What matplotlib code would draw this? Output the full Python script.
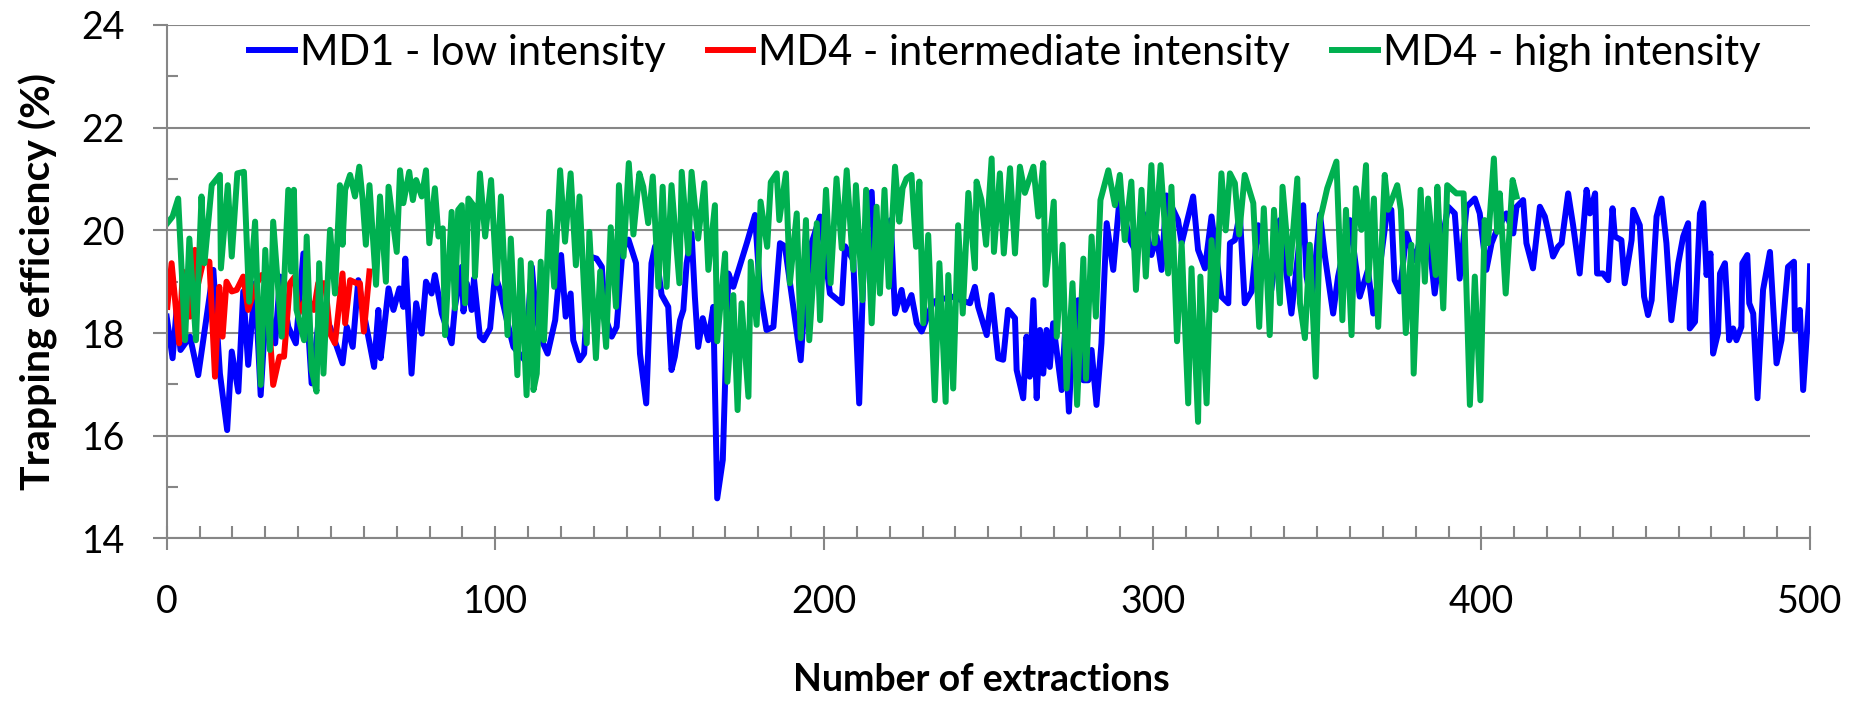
import matplotlib
matplotlib.use('Agg')
import matplotlib.pyplot as plt
from matplotlib.ticker import MultipleLocator

plt.rcParams['font.family'] = ['Lato', 'DejaVu Sans']

# MD1 - low intensity (extraction number, trapping efficiency %)
md1_x = [
    0.0, 1.8, 3.0, 4.2, 7.1, 9.6, 14.2, 16.2, 18.4, 19.8, 21.8, 23.3, 24.8, 26.9, 28.6, 30.4,
    33.0, 34.5, 37.0, 39.3, 41.6, 44.1, 46.6, 49.7, 53.5, 54.8, 56.6, 58.3, 59.8, 63.1, 64.4,
    65.1, 66.1, 67.5, 69.0, 70.8, 72.0, 72.6, 74.5, 75.9, 77.6, 78.9, 80.6, 81.6, 83.7, 86.7,
    87.7, 89.8, 90.3, 91.3, 92.8, 93.5, 95.3, 96.4, 98.4, 99.9, 101.4, 103.5, 105.5, 109.0,
    111.1, 112.4, 114.1, 115.9, 118.2, 120.0, 121.4, 122.9, 123.7, 125.6, 127.0, 128.8, 130.8,
    132.4, 133.4, 135.4, 136.9, 138.7, 140.5, 142.8, 144.0, 145.9, 147.5, 148.6, 150.6, 152.6,
    153.6, 154.6, 156.2, 157.2, 158.2, 159.7, 160.7, 161.7, 163.1, 164.8, 166.3, 167.5, 169.2,
    170.9, 172.4, 176.5, 179.0, 180.5, 182.5, 184.6, 186.6, 188.1, 192.9, 194.2, 196.2, 198.8,
    201.8, 205.4, 206.4, 208.9, 210.7, 212.2, 214.5, 215.5, 217.0, 220.3, 221.6, 223.6, 224.6,
    226.6, 228.2, 229.7, 233.2, 238.8, 244.4, 245.9, 246.9, 249.5, 251.0, 253.0, 254.5, 256.0,
    258.1, 258.6, 260.6, 261.6, 262.6, 263.7, 264.7, 265.7, 266.7, 267.7, 268.7, 269.7, 272.3,
    273.3, 274.5, 275.8, 277.3, 278.9, 280.4, 281.4, 282.9, 284.4, 286.0, 288.0, 290.0, 293.0,
    295.1, 297.1, 299.6, 301.2, 302.7, 304.2, 307.7, 308.8, 312.3, 313.8, 315.9, 317.9, 320.9,
    323.0, 323.5, 325.0, 326.5, 328.0, 330.1, 332.1, 334.6, 336.1, 338.7, 342.2, 343.8, 345.8,
    346.8, 348.3, 350.9, 352.4, 354.9, 356.4, 360.0, 363.0, 365.5, 367.1, 369.1, 371.1, 372.6,
    373.6, 375.2, 377.2, 379.7, 383.3, 385.8, 387.3, 389.9, 391.9, 393.4, 395.5, 398.0, 399.5,
    401.5, 403.1, 404.6, 407.6, 409.7, 410.7, 412.7, 413.7, 415.7, 417.8, 419.3, 420.3, 421.8,
    423.3, 424.4, 426.4, 427.9, 429.9, 432.0, 433.0, 434.6, 435.2, 437.0, 438.6, 439.9, 440.6,
    442.6, 443.6, 445.7, 446.2, 448.2, 449.5, 450.7, 451.8, 453.3, 454.8, 456.3, 457.8, 459.9,
    461.4, 462.9, 463.4, 465.0, 466.5, 467.5, 468.5, 469.7, 470.5, 472.0, 472.6, 474.1, 475.4,
    476.6, 477.6, 479.1, 479.4, 480.9, 481.5, 482.7, 484.0, 485.7, 487.8, 489.8, 491.3, 493.3,
    495.1, 495.4, 496.9, 497.9, 499.7, 500.0,
]
md1_y = [
    18.32, 17.51, 18.45, 17.67, 17.93, 17.18, 19.23, 17.21, 16.11, 17.64, 16.86, 18.81, 17.38,
    18.97, 16.79, 18.71, 17.80, 19.10, 18.12, 17.80, 19.55, 17.02, 18.45, 18.12, 17.41, 18.12,
    17.73, 19.03, 18.45, 17.34, 18.45, 17.51, 18.06, 18.87, 18.45, 18.87, 18.51, 19.45, 17.21,
    18.58, 17.99, 19.00, 18.77, 19.13, 18.38, 17.80, 18.51, 19.29, 18.42, 18.97, 18.45, 19.06,
    17.93, 17.86, 18.09, 19.13, 18.84, 18.25, 17.73, 17.47, 19.29, 18.32, 17.86, 17.60, 18.25,
    19.52, 18.32, 18.77, 17.86, 17.47, 17.60, 19.49, 19.45, 19.29, 18.32, 17.93, 18.12, 19.62,
    19.82, 19.36, 17.60, 16.63, 19.36, 19.69, 18.74, 18.51, 17.28, 17.54, 18.25, 18.45, 19.36,
    19.94, 18.71, 17.73, 18.29, 17.86, 18.51, 14.78, 15.53, 19.16, 18.90, 19.75, 20.30, 18.84,
    18.06, 18.12, 19.75, 19.69, 17.47, 18.71, 19.75, 20.27, 18.77, 18.58, 19.69, 19.42, 16.63,
    19.62, 20.75, 19.23, 19.75, 20.20, 18.38, 18.84, 18.45, 18.74, 18.19, 18.03, 18.61, 18.71,
    18.58, 18.90, 18.51, 17.96, 18.74, 17.51, 17.48, 18.45, 18.29, 17.28, 16.73, 17.93, 17.15,
    18.64, 16.73, 18.06, 17.21, 18.06, 17.34, 18.19, 16.89, 18.00, 16.47, 18.12, 18.64, 17.08,
    17.08, 17.67, 16.60, 17.80, 20.14, 19.23, 20.68, 19.82, 19.55, 20.33, 19.52, 19.88, 19.23,
    20.68, 20.20, 19.75, 20.66, 19.62, 19.26, 20.27, 18.71, 18.58, 19.75, 19.81, 20.33, 18.58,
    18.81, 20.10, 19.42, 18.84, 20.20, 18.38, 19.29, 20.49, 19.10, 18.58, 20.31, 19.49, 18.38,
    19.10, 20.20, 18.71, 19.23, 18.38, 19.29, 20.27, 20.40, 19.03, 18.81, 19.94, 19.42, 20.27,
    18.77, 19.55, 20.46, 20.33, 19.06, 20.46, 20.62, 20.33, 19.23, 19.75, 19.99, 20.33, 19.94,
    20.46, 20.59, 19.75, 19.26, 20.46, 20.27, 19.99, 19.49, 19.68, 19.75, 20.72, 20.10, 19.16,
    20.79, 20.33, 20.72, 19.16, 19.16, 19.03, 20.43, 19.88, 19.81, 18.97, 19.81, 20.40, 20.10,
    18.71, 18.35, 18.64, 20.27, 20.62, 19.75, 18.25, 19.36, 19.88, 20.14, 18.09, 18.22, 20.33,
    20.53, 19.13, 19.55, 17.60, 18.00, 19.16, 19.36, 17.86, 18.09, 17.86, 18.12, 19.36, 19.52,
    18.58, 18.38, 16.73, 18.84, 19.58, 17.41, 17.86, 19.29, 19.39, 18.06, 18.45, 16.89, 18.64,
    19.30,
]

# MD4 - intermediate intensity
md4i_x = [
    0.2, 1.5, 3.8, 4.9, 7.1, 8.6, 9.6, 11.1, 13.0, 14.7, 16.0, 17.0, 18.2, 19.8, 21.3, 23.3,
    24.8, 27.4, 28.9, 30.4, 32.4, 34.3, 35.7, 37.5, 39.0, 40.1, 42.6, 44.8, 46.1, 48.2, 49.7,
    51.2, 53.5, 54.3, 55.8, 57.8, 58.8, 60.0, 61.7,
]
md4i_y = [
    18.51, 19.36, 17.80, 19.20, 18.32, 19.62, 18.97, 19.39, 19.39, 17.15, 18.90, 17.93, 19.00,
    18.81, 18.84, 19.10, 18.45, 18.97, 19.13, 18.97, 16.99, 17.54, 17.54, 18.97, 19.10, 18.38,
    18.70, 18.45, 18.97, 18.97, 17.99, 17.80, 19.16, 18.19, 19.03, 18.97, 18.97, 18.03, 19.20,
]

# MD4 - high intensity
md4h_x = [
    0.2, 1.8, 3.5, 5.6, 6.9, 8.9, 10.6, 11.5, 13.7, 16.2, 16.5, 18.6, 19.8, 21.5, 23.5, 25.1,
    26.9, 28.6, 30.0, 31.4, 32.4, 35.0, 37.0, 37.9, 38.7, 39.5, 41.8, 42.6, 44.1, 45.6, 46.4,
    47.7, 49.7, 51.2, 52.7, 53.5, 54.3, 55.8, 57.3, 58.6, 59.6, 60.6, 61.7, 63.7, 64.9, 66.7,
    67.5, 70.0, 71.0, 72.0, 73.8, 74.9, 75.9, 77.6, 78.9, 79.9, 81.6, 82.7, 84.0, 84.7, 86.7,
    87.7, 88.7, 89.8, 90.8, 91.8, 93.3, 93.8, 95.3, 96.9, 98.7, 100.4, 101.7, 103.7, 104.7,
    106.7, 107.7, 109.5, 110.8, 111.6, 112.6, 113.8, 114.8, 116.4, 117.9, 119.7, 121.2, 122.9,
    124.5, 125.6, 127.8, 128.6, 130.6, 131.9, 133.7, 135.1, 136.7, 137.6, 139.0, 140.6, 142.0,
    143.8, 145.0, 146.5, 147.9, 149.6, 150.9, 152.1, 153.6, 156.0, 156.7, 158.7, 159.7, 161.7,
    163.6, 164.8, 166.8, 167.5, 169.9, 170.6, 172.4, 173.7, 174.9, 177.0, 177.7, 179.5, 180.7,
    182.7, 183.8, 185.6, 186.4, 188.4, 189.6, 191.7, 192.9, 194.5, 195.5, 197.8, 198.8, 200.6,
    202.0, 203.8, 205.4, 206.9, 208.9, 209.7, 211.7, 212.8, 214.5, 216.0, 217.0, 218.4, 219.7,
    221.6, 222.9, 223.9, 225.1, 226.6, 228.0, 229.0, 230.2, 231.7, 233.7, 235.1, 237.0, 237.8,
    239.3, 240.8, 242.2, 243.9, 245.9, 246.4, 247.9, 249.3, 251.0, 251.7, 253.5, 254.7, 256.6,
    258.1, 259.6, 261.1, 263.7, 265.2, 266.7, 267.4, 269.9, 270.8, 272.6, 273.8, 275.6, 277.0,
    278.9, 279.7, 281.4, 282.7, 284.1, 286.5, 288.5, 290.0, 291.5, 293.5, 294.9, 296.6, 297.9,
    299.6, 300.6, 302.4, 304.7, 305.7, 307.4, 308.8, 310.8, 311.8, 313.8, 314.5, 316.4, 317.9,
    319.1, 320.9, 322.2, 323.5, 325.0, 326.3, 328.0, 330.6, 332.4, 333.8, 335.6, 336.9, 338.7,
    339.5, 341.7, 344.0, 344.8, 346.3, 347.8, 349.6, 350.9, 353.1, 355.9, 357.7, 358.8, 360.5,
    361.8, 363.5, 364.9, 365.6, 367.3, 368.6, 370.6, 371.6, 374.4, 375.5, 377.0, 378.7, 379.4,
    381.5, 382.8, 383.8, 386.1, 386.6, 388.4, 389.6, 392.4, 394.6, 396.5, 398.0, 399.7, 401.0,
    402.0, 403.8, 404.8, 405.6, 407.4, 409.5, 410.7,
]
md4h_y = [
    20.14, 20.27, 20.62, 17.86, 19.84, 17.86, 20.66, 19.36, 20.88, 21.08, 19.26, 20.88, 19.49,
    21.11, 21.14, 18.61, 20.17, 16.99, 19.62, 17.67, 20.17, 17.93, 20.79, 19.20, 20.79, 18.45,
    17.86, 19.88, 17.28, 16.86, 19.36, 17.21, 20.01, 18.77, 20.88, 19.72, 20.79, 21.08, 20.66,
    21.24, 20.62, 19.72, 20.88, 18.94, 20.66, 19.00, 20.85, 19.58, 21.17, 20.53, 21.14, 20.59,
    20.98, 20.66, 21.17, 19.75, 20.82, 19.88, 20.04, 17.96, 20.36, 18.48, 20.40, 20.49, 18.58,
    20.62, 20.49, 19.10, 21.11, 19.88, 20.98, 18.97, 20.66, 17.96, 19.84, 17.18, 19.42, 16.79,
    19.36, 16.89, 17.21, 19.39, 17.86, 20.36, 18.90, 21.17, 19.78, 21.11, 19.32, 20.66, 17.80,
    19.97, 17.51, 19.20, 17.73, 20.06, 18.51, 20.88, 19.49, 21.31, 19.92, 21.11, 20.85, 20.14,
    21.05, 18.90, 20.85, 18.90, 20.88, 18.97, 21.14, 19.55, 21.14, 19.84, 20.92, 19.23, 20.49,
    17.84, 19.55, 17.05, 18.74, 16.50, 18.58, 16.76, 19.39, 18.16, 20.56, 19.68, 20.94, 21.11,
    20.20, 21.11, 18.97, 20.33, 17.90, 20.20, 17.86, 20.14, 18.25, 20.79, 18.97, 21.01, 19.65,
    21.17, 19.23, 20.88, 18.64, 20.79, 18.19, 20.46, 18.77, 20.79, 18.90, 21.24, 20.17, 20.82,
    21.01, 21.08, 19.68, 20.95, 18.19, 19.91, 16.69, 19.36, 16.66, 19.13, 16.92, 20.10, 18.38,
    20.73, 19.26, 20.95, 20.59, 19.72, 21.40, 19.58, 21.11, 19.55, 21.21, 19.55, 21.24, 20.73,
    21.24, 20.27, 21.31, 18.94, 20.56, 17.93, 19.72, 16.92, 18.97, 16.60, 19.45, 17.11, 19.88,
    18.32, 20.59, 21.17, 20.49, 21.08, 19.81, 20.95, 18.84, 20.79, 19.10, 21.27, 19.75, 21.27,
    19.16, 20.85, 17.84, 19.75, 16.63, 19.26, 16.27, 19.10, 16.63, 19.81, 18.45, 21.11, 20.00,
    21.11, 20.92, 19.92, 21.08, 20.53, 18.12, 20.43, 17.96, 20.40, 18.58, 20.85, 19.16, 21.01,
    18.58, 17.90, 19.72, 17.15, 20.20, 20.82, 21.34, 18.25, 20.40, 17.96, 20.82, 20.01, 21.27,
    19.03, 20.62, 18.12, 21.08, 20.40, 20.88, 20.40, 18.00, 19.72, 17.21, 20.79, 19.00, 20.62,
    19.13, 20.85, 18.48, 20.88, 20.72, 20.72, 16.60, 19.10, 16.69, 20.20, 19.75, 21.40, 19.97,
    20.72, 18.77, 20.98, 20.66,
]

grey = '#868686'

fig = plt.figure(figsize=(18.54, 7.04), dpi=100)
ax = fig.add_axes([0.0899, 0.2352, 0.8864, 0.7293])

ax.plot(md1_x, md1_y, color='#0000FF', lw=4.3, label='MD1 - low intensity', solid_joinstyle='round')
ax.plot(md4i_x, md4i_y, color='#FF0000', lw=4.3, label='MD4 - intermediate intensity', solid_joinstyle='round')
ax.plot(md4h_x, md4h_y, color='#00B050', lw=4.3, label='MD4 - high intensity', solid_joinstyle='round')

ax.set_xlim(0, 500)
ax.set_ylim(14, 24)
ax.xaxis.set_major_locator(MultipleLocator(100))
ax.xaxis.set_minor_locator(MultipleLocator(10))
ax.yaxis.set_major_locator(MultipleLocator(2))
ax.yaxis.set_minor_locator(MultipleLocator(1))

ax.yaxis.grid(True, which='major', color=grey, lw=1.5)
ax.set_axisbelow(True)
for side in ['top', 'right']:
    ax.spines[side].set_visible(False)
for side in ['left', 'bottom']:
    ax.spines[side].set_color(grey)
    ax.spines[side].set_linewidth(1.5)

ax.tick_params(axis='x', which='major', direction='inout', length=17, width=1.5, color=grey,
               labelsize=27, pad=24)
ax.tick_params(axis='x', which='minor', direction='in', length=8.6, width=1.5, color=grey)
ax.tick_params(axis='y', which='major', direction='out', length=10, width=1.5, color=grey,
               labelsize=27, pad=20)
ax.tick_params(axis='y', which='minor', direction='in', length=8, width=1.5, color=grey)

ax.set_xlabel('Number of extractions', fontsize=27, fontweight='bold')
ax.set_ylabel('Trapping efficiency (%)', fontsize=29.5, fontweight='bold')
ax.xaxis.set_label_coords(0.4957, -0.242)
ax.yaxis.set_label_coords(-0.066, 0.5)

ax.legend(loc='center', bbox_to_anchor=(0.51, 0.946), ncol=3, frameon=False, fontsize=30,
          handlelength=1.1, handletextpad=0.12, columnspacing=1.0, borderaxespad=0)

plt.savefig('out.png', dpi=100)
